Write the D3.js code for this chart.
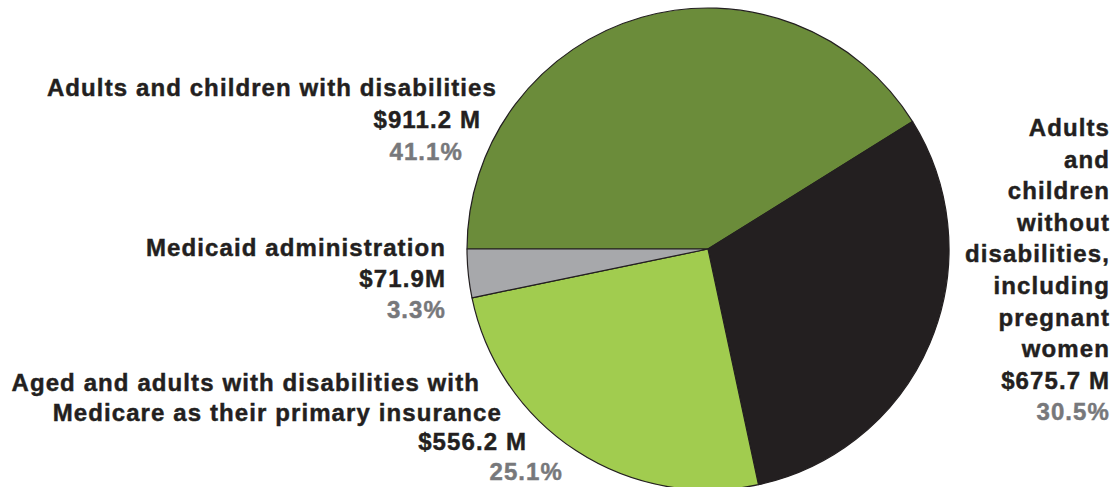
<!DOCTYPE html>
<html>
<head>
<meta charset="utf-8">
<script src="https://cdn.jsdelivr.net/npm/d3@7"></script>
<style>
  html, body { margin: 0; padding: 0; background: #ffffff; }
  svg { display: block; }
  text { font-family: "Liberation Sans", Arial, Helvetica, sans-serif; font-weight: bold; }
</style>
</head>
<body>
<svg id="chart" width="1113" height="487"></svg>
<script>
// Medicaid spending by group
const categories = [
  "Adults and children with disabilities",
  "Adults and children without disabilities, including pregnant women",
  "Aged and adults with disabilities with Medicare as their primary insurance",
  "Medicaid administration"
];
const amounts = [911.2, 675.7, 556.2, 71.9];          // $ millions
const amountLabels = ["$911.2 M", "$675.7 M", "$556.2 M", "$71.9M"];
const percentLabels = ["41.1%", "30.5%", "25.1%", "3.3%"];
const colors = ["#6b8c3a", "#231f20", "#a1cc4f", "#a7a8ab"];

// Label lines per slice: [text, kind] where kind = "name" | "amount" | "pct"
const labelLines = [
  [["Adults and children with disabilities", "name"], [amountLabels[0], "amount"], [percentLabels[0], "pct"]],
  [["Adults", "name"], ["and", "name"], ["children", "name"], ["without", "name"], ["disabilities,", "name"],
   ["including", "name"], ["pregnant", "name"], ["women", "name"], [amountLabels[1], "amount"], [percentLabels[1], "pct"]],
  [["Aged and adults with disabilities with", "name"], ["Medicare as their primary insurance", "name"],
   [amountLabels[2], "amount"], [percentLabels[2], "pct"]],
  [["Medicaid administration", "name"], [amountLabels[3], "amount"], [percentLabels[3], "pct"]]
];

// Layout: right edge of each line and its baseline
const labelLayout = [
  { rights: [497, 481, 463], top: 96, step: 32 },
  { rights: [1110, 1110, 1110, 1110, 1110, 1110, 1110, 1110, 1110, 1110], top: 136, step: 31.6 },
  { rights: [480, 502, 527, 563], top: 391, step: 29.5 },
  { rights: [446, 446, 446], top: 256, step: 31 }
];

const svg = d3.select("#chart");
const cx = 708, cy = 249, r = 241;

const pie = d3.pie().sort(null).value(d => d)
  .startAngle(-Math.PI / 2).endAngle(1.5 * Math.PI);
const arc = d3.arc().innerRadius(0).outerRadius(r);

const g = svg.append("g").attr("transform", `translate(${cx},${cy})`);
g.selectAll("path")
  .data(pie(amounts))
  .join("path")
  .attr("d", arc)
  .attr("fill", (d, i) => colors[i])
  .attr("stroke", "#231f20")
  .attr("stroke-width", 1.2)
  .attr("stroke-linejoin", "round");

const fontSize = 24;
labelLines.forEach((lines, i) => {
  const lay = labelLayout[i];
  const t = svg.append("g").attr("class", "label");
  lines.forEach(([txt, kind], j) => {
    const col = kind === "pct" ? "#77787b" : "#231f20";
    t.append("text")
      .attr("x", lay.rights[j])
      .attr("y", lay.top + j * lay.step)
      .attr("text-anchor", "end")
      .attr("font-size", fontSize)
      .attr("letter-spacing", 1.1)
      .attr("fill", col)
      .attr("stroke", col)
      .attr("stroke-width", 0.45)
      .text(txt);
  });
});
</script>
</body>
</html>
